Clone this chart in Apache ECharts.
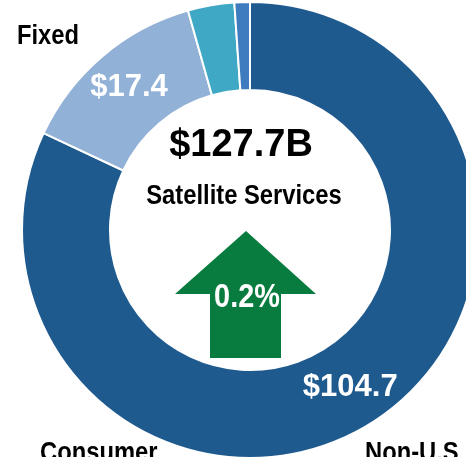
<!DOCTYPE html>
<html>
<head>
<meta charset="utf-8">
<script src="https://cdn.jsdelivr.net/npm/echarts@6/dist/echarts.min.js"></script>
<style>
  html, body { margin: 0; padding: 0; background: #fff; }
  #chart { width: 466px; height: 457px; }
</style>
</head>
<body>
<div id="chart"></div>
<script>
  // segments, clockwise from 12 o'clock
  const segNames = ['Consumer', 'Fixed', 'Other A', 'Other B'];
  const segValues = [104.7, 17.4, 4.2, 1.4];
  const segLabels = ['$104.7', '$17.4', '', ''];
  const segColors = ['#1f5a8f', '#92b1d7', '#3fa9c5', '#3f7cbf'];
  const totalLabel = '$127.7B';
  const subLabel = 'Satellite Services';
  const growthLabel = '0.2%';

  const font = '"Liberation Sans", Arial, sans-serif';

  function txt(s, x, y, size, color, align, sx) {
    return {
      type: 'text', x: x, y: y, scaleX: sx || 0.88,
      style: {
        text: s, font: 'bold ' + size + 'px ' + font, fill: color,
        align: align || 'center', verticalAlign: 'middle'
      }
    };
  }

  let myChart = echarts.init(document.getElementById('chart'));
  let option = {
    animation: false,
    series: [{
      type: 'pie',
      center: [250, 230],
      radius: [140, 228],
      startAngle: 90,
      itemStyle: {
        borderColor: '#fff',
        borderWidth: 2
      },
      label: {
        show: true,
        position: 'inside',
        color: '#fff',
        fontFamily: font,
        fontWeight: 'bold',
        fontSize: 31,
        formatter: function (p) { return segLabels[p.dataIndex]; }
      },
      labelLine: { show: false },
      data: segValues.map((v, i) => ({
        name: segNames[i],
        value: v,
        itemStyle: { color: segColors[i] }
      }))
    }],
    graphic: [
      {
        type: 'polygon',
        shape: {
          points: [[246, 231], [316, 294], [281, 294], [281, 358],
                   [210, 358], [210, 294], [175, 294]]
        },
        style: { fill: '#087c3e' }
      },
      txt(totalLabel, 241, 146, 38, '#000', 'center', 1),
      txt(subLabel, 244, 197, 27, '#000'),
      txt(growthLabel, 247, 298, 34, '#fff', 'center', 0.85),
      txt('Fixed', 17, 37, 27, '#000', 'left'),
      txt('Consumer', 40, 454, 27, '#000', 'left'),
      txt('Non-U.S', 365, 454, 27, '#000', 'left')
    ]
  };
  myChart.setOption(option);
</script>
</body>
</html>
